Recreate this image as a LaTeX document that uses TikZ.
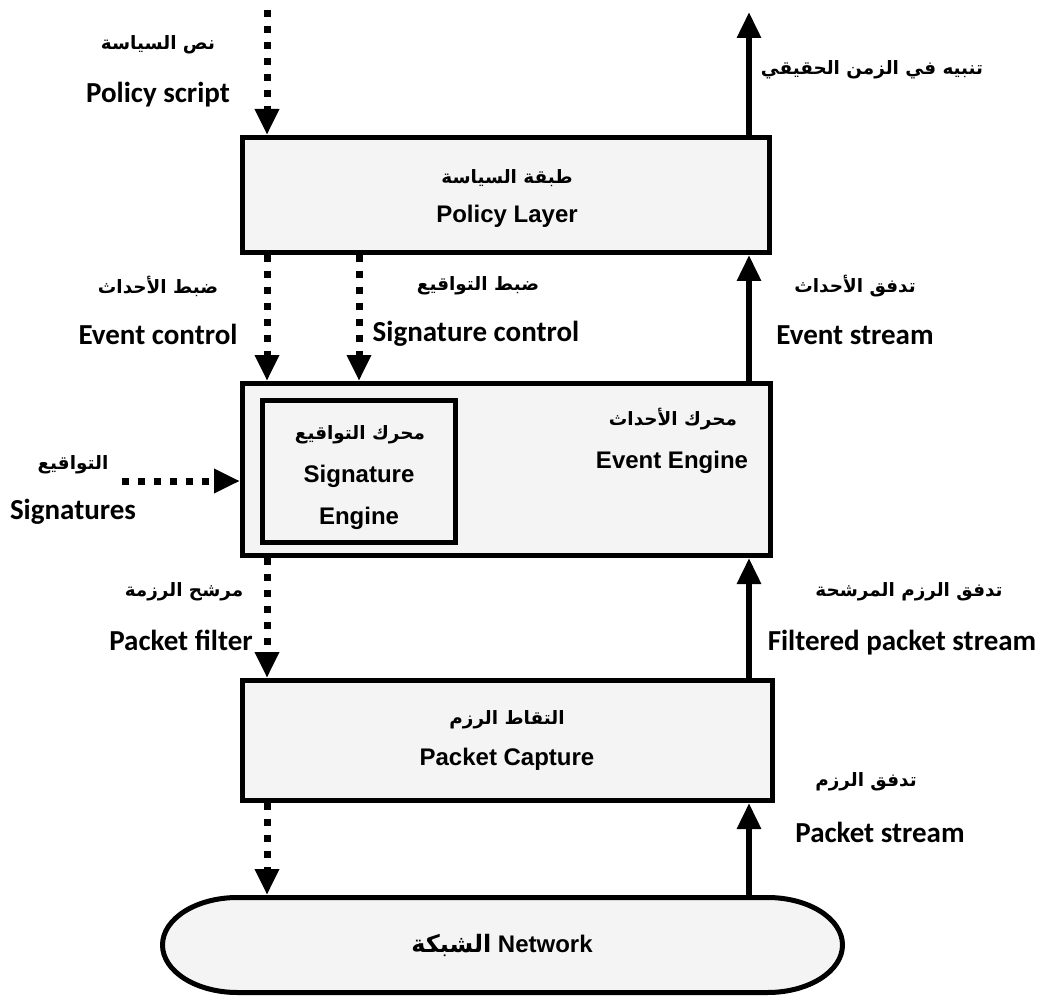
\documentclass[tikz,border=0pt]{standalone}
\usepackage{fontspec}
\setmainfont{Carlito}
\newfontfamily\arialfont{Liberation Sans}
\newfontfamily\arabicfont[Script=Arabic]{DejaVu Sans}
\TeXXeTstate=1
\usetikzlibrary{arrows.meta}
\definecolor{boxgray}{HTML}{F4F4F4}

\begin{document}
\begin{tikzpicture}[x=0.5pt,y=-0.5pt,
  layerbox/.style={draw=black,line width=2.5pt,fill=boxgray,inner sep=0pt},
  netspot/.style={inner sep=0pt,outer sep=1.25pt,minimum width=340pt,minimum height=47.5pt},
  flowline/.style={line width=3pt,-{Triangle[width=11.5pt,length=13pt]}},
  ctrlline/.style={line width=3.5pt,dash pattern=on 3.5pt off 4.5pt,-{Triangle[width=11.5pt,length=13pt]}},
  arlabel/.style={font=\arabicfont\bfseries\fontsize{9.2}{11}\selectfont,inner sep=0pt},
  enlabel/.style={font=\bfseries\fontsize{14.5}{17}\selectfont,inner sep=0pt},
  boxlabel/.style={font=\arialfont\bfseries\fontsize{12}{14}\selectfont,inner sep=0pt}]
\useasboundingbox (0,0) rectangle (1049,1000);
% layers
\node[layerbox,minimum width=263.5pt,minimum height=57.5pt] (policy) at (506,195) {};
\node[layerbox,minimum width=264pt,minimum height=86pt] (evengine) at (506.5,469.5) {};
\node[layerbox,minimum width=96.5pt,minimum height=71pt] (sigengine) at (359,471.5) {};
\node[layerbox,minimum width=265pt,minimum height=60pt] (capture) at (507.5,740.5) {};
% network outline, flat top and bottom with elliptic ends
\filldraw[line width=2.5pt,fill=boxgray] (237.5,897.5) -- (767.5,897.5)
  arc[start angle=90,end angle=-90,x radius=37.5pt,y radius=23.75pt] -- (237.5,992.5)
  arc[start angle=270,end angle=90,x radius=37.5pt,y radius=23.75pt] -- cycle;
\node[netspot] (network) at (502.5,945) {};
% free ends
\coordinate (scriptin) at (267,10);
\coordinate (alertout) at (749,12);
\coordinate (sigsin) at (122,481);
% connectors
\draw[ctrlline] (scriptin) -- (scriptin |- policy.north);
\draw[flowline] (alertout |- policy.north) -- (alertout);
\draw[ctrlline] (policy.south -| scriptin) -- (evengine.north -| scriptin);
\draw[ctrlline] (policy.south -| sigengine) -- (evengine.north -| sigengine);
\draw[flowline] (evengine.north -| alertout) -- (policy.south -| alertout);
\draw[ctrlline] (sigsin) -- (sigsin -| evengine.west);
\draw[ctrlline] (evengine.south -| scriptin) -- (capture.north -| scriptin);
\draw[flowline] (capture.north -| alertout) -- (evengine.south -| alertout);
\draw[ctrlline] (capture.south -| scriptin) -- (network.north -| scriptin);
\draw[flowline] (network.north -| alertout) -- (capture.south -| alertout);
% labels
\node[arlabel] (scriptar) at (158,45) {\beginR نص السياسة\endR};
\node[enlabel] (scripten) at (158,95) {Policy script};
\node[arlabel] (alertar) at (872,70) {\beginR تنبيه في الزمن الحقيقي\endR};
\node[arlabel] (policyar) at (507,178) {\beginR طبقة السياسة\endR};
\node[boxlabel] (policyen) at (507,216) {Policy Layer};
\node[arlabel] (evctlar) at (158,286) {\beginR ضبط الأحداث\endR};
\node[enlabel] (evctlen) at (158,334) {Event control};
\node[arlabel] (sigctlar) at (478,286) {\beginR ضبط التواقيع\endR};
\node[enlabel] (sigctlen) at (476,334) {Signature control};
\node[arlabel] (evstrar) at (855,286) {\beginR تدفق الأحداث\endR};
\node[enlabel] (evstren) at (855,335) {Event stream};
\node[arlabel] (evengar) at (673,419) {\beginR محرك الأحداث\endR};
\node[boxlabel] (evengen) at (672,462) {Event Engine};
\node[arlabel] (sigengar) at (360,435) {\beginR محرك التواقيع\endR};
\node[boxlabel] (sigengen) at (359,476) {Signature};
\node[boxlabel] (sigengen2) at (359,518) {Engine};
\node[arlabel] (sigsar) at (73,465) {\beginR التواقيع\endR};
\node[enlabel] (sigsen) at (73,512) {Signatures};
\node[arlabel] (filterar) at (184,592) {\beginR مرشح الرزمة\endR};
\node[enlabel] (filteren) at (181,640) {Packet filter};
\node[arlabel] (fstrar) at (909,592) {\beginR تدفق الرزم المرشحة\endR};
\node[enlabel] (fstren) at (902,643) {Filtered packet stream};
\node[arlabel] (capturear) at (507,720) {\beginR التقاط الرزم\endR};
\node[boxlabel] (captureen) at (507,759) {Packet Capture};
\node[arlabel] (pstrar) at (866,782) {\beginR تدفق الرزم\endR};
\node[enlabel] (pstren) at (880,832) {Packet stream};
\node[boxlabel] (networken) at (502,945) {{\arabicfont\beginR الشبكة\endR} Network};
\end{tikzpicture}
\end{document}
